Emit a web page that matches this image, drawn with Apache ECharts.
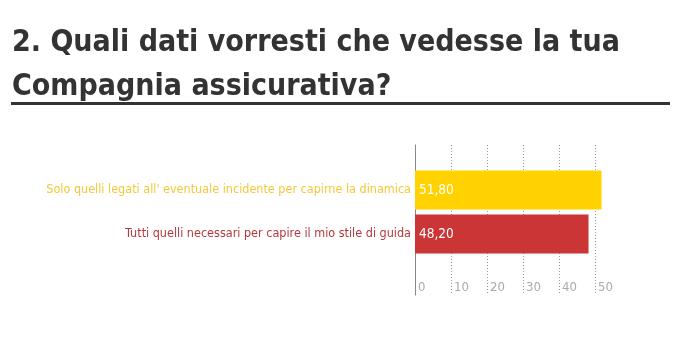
<!DOCTYPE html>
<html>
<head>
<meta charset="utf-8">
<script src="https://cdn.jsdelivr.net/npm/echarts@6/dist/echarts.min.js"></script>
<style>
html,body{margin:0;padding:0;background:#fff;}
#c{width:684px;height:339px;}
</style>
</head>
<body>
<div id="c"></div>
<script>
const titleText = "2. Quali dati vorresti che vedesse la tua\nCompagnia assicurativa?";
const categories = [
  "Tutti quelli necessari per capire il mio stile di guida",
  "Solo quelli legati all' eventuale incidente per capirne la dinamica"
];
const values = [48.2, 51.8];
const barColors = ["#cc3535", "#ffd200"];
const labelColors = ["#b5393c", "#f4c83a"];
const xTicks = [0, 10, 20, 30, 40, 50];

const FONT = "'Liberation Sans Narrow', 'DejaVu Sans Condensed', sans-serif";
const chart = echarts.init(document.getElementById('c'), null, {renderer: 'canvas'});
chart.setOption({
  animation: false,
  backgroundColor: '#fff',
  title: {
    text: titleText,
    left: 7, top: 16,
    textStyle: {fontFamily: FONT, fontSize: 30, fontWeight: 'bold', color: '#333', lineHeight: 44}
  },
  graphic: [{
    type: 'rect', shape: {x: 11, y: 102, width: 659, height: 3},
    style: {fill: '#333'}
  }],
  grid: [
    {left: 415, right: 89, top: 145, bottom: 44},
    {left: 415, right: 89, top: 168, bottom: 83}
  ],
  xAxis: [{
    gridIndex: 0, type: 'value', min: xTicks[0], max: xTicks[xTicks.length - 1], interval: 10,
    axisLine: {show: false}, axisTick: {show: false},
    splitLine: {show: true, lineStyle: {type: [1, 2], color: '#999', width: 1}},
    axisLabel: {inside: true, margin: 1, align: 'left', padding: [0, 0, 0, 3],
      fontFamily: FONT, fontSize: 13, color: '#aaa'}
  }, {
    gridIndex: 1, type: 'value', min: xTicks[0], max: xTicks[xTicks.length - 1], interval: 10,
    show: false
  }],
  yAxis: [{
    gridIndex: 0, type: 'category', data: [''],
    axisLine: {show: true, lineStyle: {color: '#888', width: 1}},
    axisTick: {show: false}, axisLabel: {show: false}, splitLine: {show: false}
  }, {
    gridIndex: 1, type: 'category', data: categories,
    axisLine: {show: false}, axisTick: {show: false},
    axisLabel: {
      margin: 4, fontFamily: FONT, fontSize: 12.5,
      color: function (v, i) { return labelColors[i]; }
    }
  }],
  series: [{
    type: 'bar', xAxisIndex: 1, yAxisIndex: 1,
    data: values.map((v, i) => ({value: v, itemStyle: {color: barColors[i]}})),
    barWidth: 39, clip: false,
    label: {
      show: true, position: 'insideLeft', distance: 4,
      fontFamily: FONT, fontSize: 13.5, color: '#fff',
      formatter: p => p.value.toFixed(2).replace('.', ',')
    }
  }]
});
</script>
</body>
</html>
